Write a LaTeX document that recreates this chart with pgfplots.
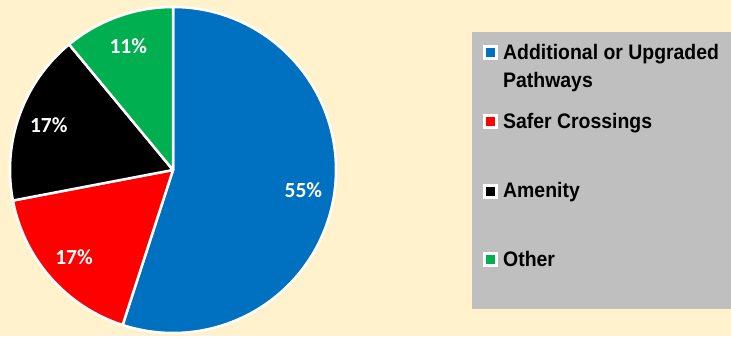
\documentclass[border=0pt]{standalone}
\usepackage{pgfplots}
\usepackage{pgfplotstable}
\usepackage{graphicx}
\pgfplotsset{compat=1.18}
\usepackage{fontspec}
\setmainfont{Liberation Sans}
\newfontfamily\carlito{Carlito}
\definecolor{bgcream}{HTML}{FFF2CC}
\definecolor{legendgray}{HTML}{BFBFBF}
\definecolor{sliceblue}{HTML}{0070C0}
\definecolor{slicered}{HTML}{FF0000}
\definecolor{sliceblack}{HTML}{000000}
\definecolor{slicegreen}{HTML}{00B050}
\pgfplotstableread{
label value color
A 55 sliceblue
B 17 slicered
C 17 sliceblack
D 11 slicegreen
}\piedata
\tikzset{pielabel/.style={font=\carlito\bfseries\fontsize{21.5}{21.5}\selectfont, text=white},
  legtext/.style={font=\bfseries\fontsize{21}{21}\selectfont, anchor=base west, inner sep=0pt}}
\newcommand\leg[1]{\scalebox{0.925}[1]{#1}}
\begin{document}
\begin{tikzpicture}[x=1pt,y=1pt]
\fill[bgcream] (0,0) rectangle (731,336);
\fill[legendgray] (472,27) rectangle (731,304);
\begin{axis}[x=1pt,y=1pt,scale only axis,hide axis,clip=false,
  xmin=-173,xmax=558,ymin=-166,ymax=170,at={(0,0)},anchor=south west]
\pgfplotstablegetrowsof{\piedata}
\pgfmathtruncatemacro{\nrows}{\pgfplotsretval-1}
\def\cum{0}
\def\R{163}
\pgfplotsforeachungrouped \i in {0,...,\nrows}{%
  \pgfplotstablegetelem{\i}{value}\of{\piedata}\let\val\pgfplotsretval
  \pgfplotstablegetelem{\i}{color}\of{\piedata}\let\col\pgfplotsretval
  \pgfmathsetmacro{\sa}{90-3.6*\cum}%
  \pgfmathsetmacro{\ea}{90-3.6*(\cum+\val)}%
  \pgfmathsetmacro{\ma}{(\sa+\ea)/2}%
  \pgfmathsetmacro{\xs}{\R*cos(\sa)}%
  \pgfmathsetmacro{\ys}{\R*sin(\sa)}%
  \pgfmathsetmacro{\xl}{132*cos(\ma)}%
  \pgfmathsetmacro{\yl}{132*sin(\ma)}%
  \pgfmathtruncatemacro{\pv}{\val}%
  \edef\temp{\noexpand\filldraw[fill=\col,draw=white,line width=2.5pt,line join=round]
    (axis cs:0,0) -- (axis cs:\xs,\ys) arc[start angle=\sa,end angle=\ea,radius=\R pt] -- cycle;
    \noexpand\node[pielabel] at (axis cs:\xl,\yl) {\pv\noexpand\%};}%
  \temp
  \pgfmathsetmacro{\cum}{\cum+\val}%
}
\end{axis}
% legend
\foreach \y/\c in {283/sliceblue,214/slicered,144/sliceblack,76/slicegreen}{
  \fill[white] (483,\y-7.5) rectangle (498,\y+7.5);
  \fill[\c] (486,\y-4.5) rectangle (495,\y+4.5);
}
\node[legtext] at (503,276) {\leg{Additional or Upgraded}};
\node[legtext] at (503,248) {\leg{Pathways}};
\node[legtext] at (503,207) {\leg{Safer Crossings}};
\node[legtext] at (503,138) {\leg{Amenity}};
\node[legtext] at (503,69) {\leg{Other}};
\end{tikzpicture}
\end{document}
